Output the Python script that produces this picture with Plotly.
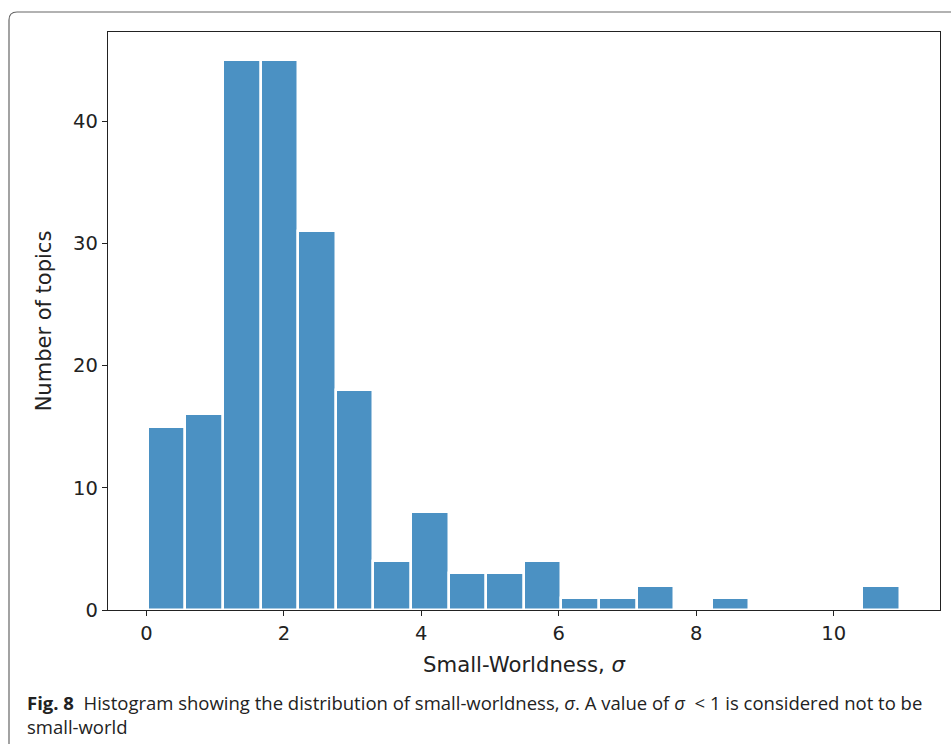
import plotly.graph_objects as go

# Histogram data (20 equal-width bins)
bin_start = 0.02
bin_width = 0.547
counts = [15, 16, 45, 45, 31, 18, 4, 8, 3, 3, 4, 1, 1, 2, 0, 1, 0, 0, 0, 2]
x_ticks = [0, 2, 4, 6, 8, 10]
y_ticks = [0, 10, 20, 30, 40]

x_title = "Small-Worldness, <i>σ</i>"
y_title = "Number of topics"
caption_1 = ("<b>Fig. 8</b>  Histogram showing the distribution of small-worldness, <i>σ</i>. "
             "A value of <i>σ</i>  &lt; 1 is considered not to be")
caption_2 = "small-world"

lefts = [bin_start + i * bin_width for i in range(len(counts))]

fig = go.Figure()
fig.add_trace(go.Bar(
    x=lefts, y=counts, offset=0, width=bin_width,
    marker=dict(color="#4b91c3", line=dict(color="white", width=2.5)),
    hoverinfo="x+y",
))

W, H = 951, 744
L, R, T, B = 108, 11, 32, 134
pw, ph = W - L - R, H - T - B

def px(x):
    return (x - L) / pw

def py(y):
    return (H - B - y) / ph

axis_common = dict(
    showline=True, linecolor="#222", linewidth=1.3, mirror=True,
    ticks="outside", ticklen=5, tickwidth=1.3, tickcolor="#222",
    showgrid=False, zeroline=False,
    tickfont=dict(family="DejaVu Sans", size=19.5, color="#222"),
)

fig.update_layout(
    width=W, height=H,
    margin=dict(l=L, r=R, t=T, b=B, autoexpand=False),
    paper_bgcolor="white", plot_bgcolor="white",
    showlegend=False, bargap=0,
    xaxis=dict(range=[-0.559, 11.547], tickvals=x_ticks,
               title=dict(text=x_title, standoff=13,
                          font=dict(family="DejaVu Sans", size=21.2, color="#222")),
               **axis_common),
    yaxis=dict(range=[0, 47.3], tickvals=y_ticks,
               title=dict(text=y_title, standoff=15,
                          font=dict(family="DejaVu Sans", size=21, color="#222")),
               **axis_common),
)

# outer rounded frame (left and top edges visible)
x0, y0 = px(9), py(12)
r = 8
fig.add_shape(type="path", xref="paper", yref="paper",
              path=(f"M {x0},{py(760)} L {x0},{py(12 + r)} "
                    f"Q {x0},{y0} {px(9 + r)},{y0} L {px(970)},{y0}"),
              line=dict(color="#666", width=1.2))

fig.add_annotation(xref="paper", yref="paper", x=px(25), y=py(702),
                   xanchor="left", yanchor="middle", showarrow=False,
                   text=caption_1, align="left",
                   font=dict(family="Open Sans", size=18.5, color="#222"))
fig.add_annotation(xref="paper", yref="paper", x=px(25), y=py(726),
                   xanchor="left", yanchor="middle", showarrow=False,
                   text=caption_2, align="left",
                   font=dict(family="Open Sans", size=18.5, color="#222"))

fig.write_html("out.html")
